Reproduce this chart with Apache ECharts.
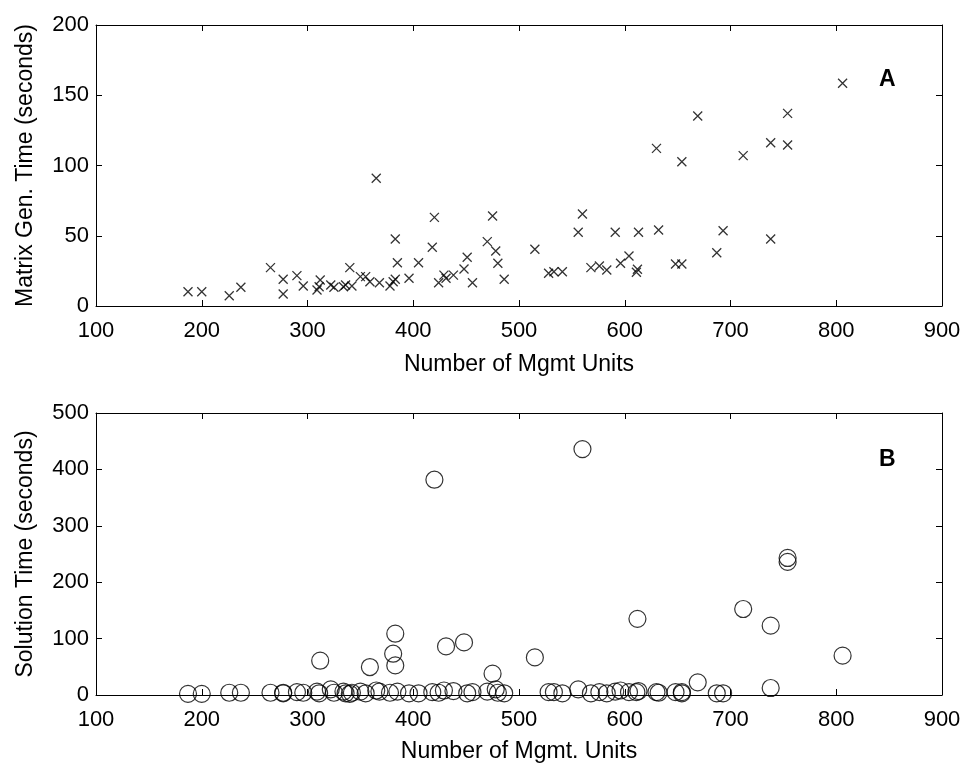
<!DOCTYPE html>
<html>
<head>
<meta charset="utf-8">
<script src="https://cdn.jsdelivr.net/npm/echarts@6/dist/echarts.min.js"></script>
<style>
  html, body { margin: 0; padding: 0; background: #fff; }
  #chart { width: 968px; height: 771px; }
</style>
</head>
<body>
<div id="chart"></div>
<script>
  'use strict';

  // number of management units per problem instance (shared by both panels)
  var units = [187, 200, 226, 237, 265, 277, 277, 290, 296, 309, 311, 312, 322, 325, 334, 336, 342, 340,
    350, 355, 359, 365, 368, 378, 381, 383, 383, 385, 396, 405, 418, 420, 424, 429, 431, 438, 448,
    451, 456, 470, 475, 478, 480, 486, 515, 528, 533, 541, 556, 560, 568, 576, 583, 591, 596, 604,
    611, 612, 613, 630, 632, 648, 654, 654, 669, 687, 693, 712, 738, 738, 754, 754, 806];

  // panel A: matrix generation time (s)
  var genTime = [10.2, 10.2, 7.3, 13.3, 27.3, 19, 8.5, 21.6, 14.2, 11.4, 13.7, 18.5, 15, 13.3, 13.7, 15,
    14.2, 27.3, 20.9, 20.9, 17.3, 90.9, 16.6, 14.2, 17.3, 19, 47.7, 30.8, 19.7, 30.8, 41.8, 63.1, 16.6,
    22, 19.7, 22, 26.3, 34.7, 16.6, 45.8, 64, 39.1, 30.4, 19, 40.4, 23.3, 24.4, 24.4, 52.5, 65.5, 27.3,
    28.5, 25.6, 52.5, 30.4, 35.6, 24, 26.1, 52.5, 112.2, 54.1, 29.9, 29.9, 102.7, 135.2, 37.9, 53.6,
    107, 116.2, 47.7, 137.1, 114.6, 158.5];

  // panel B: solution time (s)
  var solveTime = [2, 2, 4, 4, 4, 4, 3, 5, 4, 6, 3, 60.8, 10, 4, 6, 3, 4, 2, 6, 3, 49.6, 8, 6, 4, 73.2,
    52.5, 108.7, 6, 3, 3, 5, 381.7, 4, 8, 86.2, 7, 93.3, 3, 5, 6, 37.8, 10, 4, 3, 66.7, 5, 5, 3, 10, 436,
    3, 5, 3, 6, 8, 5, 5, 135, 7, 5, 4, 5, 5, 3, 22.4, 3, 3, 152.5, 122.9, 12.4, 243, 236, 69.7];

  var xTicks = { min: 100, max: 900, interval: 100 };
  var yTicksA = { min: 0, max: 200, interval: 50 };
  var yTicksB = { min: 0, max: 500, interval: 100 };

  var FONT = '"Liberation Sans", Arial, sans-serif';

  function pairs(xs, ys) {
    var out = [];
    for (var i = 0; i < xs.length; i++) {
      out.push([xs[i], ys[i]]);
    }
    return out;
  }

  function xAxes(gridIndex, name, gap) {
    var base = {
      type: 'value',
      gridIndex: gridIndex,
      min: xTicks.min,
      max: xTicks.max,
      interval: xTicks.interval,
      splitLine: { show: false },
      axisLine: { show: true, onZero: false, lineStyle: { color: '#000', width: 1 } },
      axisTick: { show: true, inside: true, length: 6, lineStyle: { color: '#000' } }
    };
    return [
      Object.assign({}, base, {
        position: 'bottom',
        name: name,
        nameLocation: 'middle',
        nameGap: gap,
        nameTextStyle: { color: '#000', fontSize: 23, fontFamily: FONT },
        axisLabel: { color: '#000', fontSize: 22, fontFamily: FONT, margin: 14 }
      }),
      Object.assign({}, base, { position: 'top', axisLabel: { show: false } })
    ];
  }

  function yAxes(gridIndex, ticks, name) {
    var base = {
      type: 'value',
      gridIndex: gridIndex,
      min: ticks.min,
      max: ticks.max,
      interval: ticks.interval,
      splitLine: { show: false },
      axisLine: { show: true, onZero: false, lineStyle: { color: '#000', width: 1 } },
      axisTick: { show: true, inside: true, length: 6, lineStyle: { color: '#000' } }
    };
    return [
      Object.assign({}, base, {
        position: 'left',
        name: name,
        nameLocation: 'middle',
        nameGap: 59,
        nameTextStyle: { color: '#000', fontSize: 23, fontFamily: FONT },
        axisLabel: { color: '#000', fontSize: 22, fontFamily: FONT, margin: 7 }
      }),
      Object.assign({}, base, { position: 'right', axisLabel: { show: false } })
    ];
  }

  var myChart = echarts.init(document.getElementById('chart'));

  var option = {
    backgroundColor: '#fff',
    animation: false,
    grid: [
      { left: 96, right: 26, top: 25, height: 281 },
      { left: 96, right: 26, top: 413, height: 282 }
    ],
    xAxis: xAxes(0, 'Number of Mgmt Units', 47).concat(xAxes(1, 'Number of Mgmt. Units', 45)),
    yAxis: yAxes(0, yTicksA, 'Matrix Gen. Time (seconds)').concat(yAxes(1, yTicksB, 'Solution Time (seconds)')),
    graphic: [
      { type: 'text', left: 879, top: 68, style: { text: 'A', fontSize: 23, fontWeight: 'bold', fontFamily: FONT, fill: '#000' } },
      { type: 'text', left: 879, top: 448, style: { text: 'B', fontSize: 23, fontWeight: 'bold', fontFamily: FONT, fill: '#000' } }
    ],
    series: [
      {
        name: 'Matrix Gen. Time',
        type: 'scatter',
        xAxisIndex: 0,
        yAxisIndex: 0,
        symbol: 'path://M0,0L10,10M10,0L0,10',
        symbolSize: 9,
        itemStyle: { color: 'none', borderColor: '#000', borderWidth: 1.3 },
        data: pairs(units, genTime)
      },
      {
        name: 'Solution Time',
        type: 'scatter',
        xAxisIndex: 2,
        yAxisIndex: 2,
        symbol: 'circle',
        symbolSize: 17,
        clip: false,
        itemStyle: { color: 'none', borderColor: '#000', borderWidth: 1.2 },
        data: pairs(units, solveTime)
      }
    ]
  };

  myChart.setOption(option);
</script>
</body>
</html>
